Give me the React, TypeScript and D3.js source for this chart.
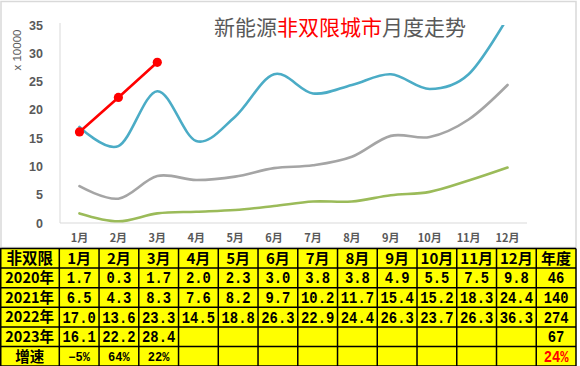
import React from 'react'
import * as d3 from 'd3'

const months = ['1月', '2月', '3月', '4月', '5月', '6月', '7月', '8月', '9月', '10月', '11月', '12月']
const years = ['2020年', '2021年', '2022年', '2023年']
const v2020 = [1.7, 0.3, 1.7, 2.0, 2.3, 3.0, 3.8, 3.8, 4.9, 5.5, 7.5, 9.8]
const v2021 = [6.5, 4.3, 8.3, 7.6, 8.2, 9.7, 10.2, 11.7, 15.4, 15.2, 18.3, 24.4]
const v2022 = [17.0, 13.6, 23.3, 14.5, 18.8, 26.3, 22.9, 24.4, 26.3, 23.7, 26.3, 36.3]
const v2023 = [16.1, 22.2, 28.4]
const annual = ['46', '140', '274', '67']
const growth = ['−5%', '64%', '22%']
const annualGrowth = '24%'
const yTicks = [0, 5, 10, 15, 20, 25, 30, 35]

const W = 580
const H = 366
const plot = { left: 60, right: 527, top: 25, bottom: 223 }

const CJK = '"Noto Sans CJK SC", "Noto Sans", sans-serif'
const MONO = '"Liberation Mono", "DejaVu Sans Mono", monospace'

export default function App() {
  const x = d3.scalePoint<string>().domain(months).range([plot.left, plot.right]).padding(0.5)
  const y = d3.scaleLinear().domain([0, 35]).range([plot.bottom, plot.top])

  const smooth = d3.line<number>()
    .x((d, i) => x(months[i]) as number)
    .y(d => y(d))
    .curve(d3.curveCardinal.tension(0))
  const straight = d3.line<number>()
    .x((d, i) => x(months[i]) as number)
    .y(d => y(d))

  const series = [
    { values: v2020, color: '#9BBB59' },
    { values: v2021, color: '#A5A5A5' },
    { values: v2022, color: '#4BACC6' },
  ]

  // table geometry
  const tTop = 248.5
  const rowH = 19.6
  const firstW = 59.3
  const colW = (576 - firstW) / 13
  const colX = (c: number) => (c === 0 ? 0 : firstW + (c - 1) * colW)
  const colCx = (c: number) => (c === 0 ? firstW / 2 : firstW + (c - 0.5) * colW)
  const rowCy = (r: number) => tTop + (r + 0.5) * rowH

  const header = ['非双限', ...months, '年度']
  const rows = [v2020, v2021, v2022, v2023]

  const numText = (s: string, cx: number, cy: number, key: string, color = '#000') => (
    <text key={key} x={cx} y={cy + 5.5} textAnchor="middle" fontFamily={MONO} fontWeight="bold"
      fontSize={16} fill={color} textLength={s.length * 8.3} lengthAdjust="spacingAndGlyphs">{s}</text>
  )

  return (
    <div style={{ position: 'absolute', left: 0, top: 0, width: W, height: H, background: '#fff' }}>
      <svg width={W} height={H}>
        <defs>
          <clipPath id="plotClip">
            <rect x={plot.left} y={plot.top} width={plot.right - plot.left} height={plot.bottom - plot.top + 5} />
          </clipPath>
        </defs>
        <rect x={1} y={1.5} width={575} height={246} fill="#fff" stroke="#D9D9D9" strokeWidth={1.5} />

        {/* title */}
        <text x={340} y={35} textAnchor="middle" fontFamily={CJK} fontSize={21} fill="#595959">
          新能源<tspan fill="#FF0000">非双限城市</tspan>月度走势
        </text>

        {/* axes */}
        <line x1={plot.left} x2={plot.left} y1={plot.top - 2} y2={plot.bottom} stroke="#D9D9D9" />
        <line x1={plot.left} x2={plot.right} y1={plot.bottom} y2={plot.bottom} stroke="#D9D9D9" />
        {yTicks.map(t => (
          <text key={t} x={43} y={y(t) + 4.5} textAnchor="end" fontFamily="Liberation Sans, Arial, sans-serif"
            fontWeight="bold" fontSize={12.5} fill="#595959">{t}</text>
        ))}
        <text transform="translate(21,50) rotate(-90)" textAnchor="middle" fontFamily="Liberation Sans, Arial, sans-serif"
          fontSize={11.5} fill="#595959">x 10000</text>
        {months.map(m => (
          <text key={m} x={x(m)} y={242} textAnchor="middle" fontFamily={CJK} fontWeight="bold"
            fontSize={11} fill="#595959">{m}</text>
        ))}

        {/* lines */}
        <g clipPath="url(#plotClip)">
          {series.map((s, i) => (
            <path key={i} d={smooth(s.values) || ''} fill="none" stroke={s.color} strokeWidth={2.6} strokeLinecap="round" />
          ))}
        </g>
        <path d={straight(v2023) || ''} fill="none" stroke="#FF0000" strokeWidth={2.6} />
        {v2023.map((v, i) => (
          <circle key={i} cx={x(months[i])} cy={y(v)} r={4.6} fill="#FF0000" />
        ))}

        {/* table */}
        <rect x={0} y={tTop} width={576} height={H - tTop + 2} fill="#FFFF00" />
        {d3.range(7).map(r => (
          <line key={'h' + r} x1={0} x2={576} y1={tTop + r * rowH} y2={tTop + r * rowH} stroke="#000" strokeWidth={1.5} />
        ))}
        {d3.range(15).map(c => {
          const xx = c === 14 ? 576 : colX(c)
          return <line key={'v' + c} x1={xx + (c === 0 ? 0.75 : 0)} x2={xx + (c === 0 ? 0.75 : 0)} y1={tTop} y2={H} stroke="#000" strokeWidth={1.5} />
        })}

        {header.map((h, c) => (
          <text key={'hd' + c} x={colCx(c)} y={rowCy(0) + 5.5} textAnchor="middle" fontFamily={CJK} fontWeight="bold"
            fontSize={c === 0 ? 15.5 : 15} fill="#000">{h}</text>
        ))}
        {years.map((yr, r) => (
          <text key={'yr' + r} x={colCx(0)} y={rowCy(r + 1) + 5} textAnchor="middle" fontFamily={CJK} fontWeight="bold"
            fontSize={14.5} fill="#000">{yr}</text>
        ))}
        {rows.map((vals, r) => vals.map((v, c) => numText(v.toFixed(1), colCx(c + 1), rowCy(r + 1), `n${r}-${c}`)))}
        {annual.map((a, r) => numText(a, colCx(13), rowCy(r + 1), 'a' + r))}

        <text x={colCx(0)} y={rowCy(5) + 6} textAnchor="middle" fontFamily={CJK} fontWeight="bold"
          fontSize={14.5} fill="#000">增速</text>
        {growth.map((g, c) => (
          <text key={'g' + c} x={colCx(c + 1)} y={rowCy(5) + 4.5} textAnchor="middle" fontFamily={MONO} fontWeight="bold"
            fontSize={12} fill="#000">{g}</text>
        ))}
        {numText(annualGrowth, colCx(13), rowCy(5), 'ag', '#FF0000')}
      </svg>
    </div>
  )
}
